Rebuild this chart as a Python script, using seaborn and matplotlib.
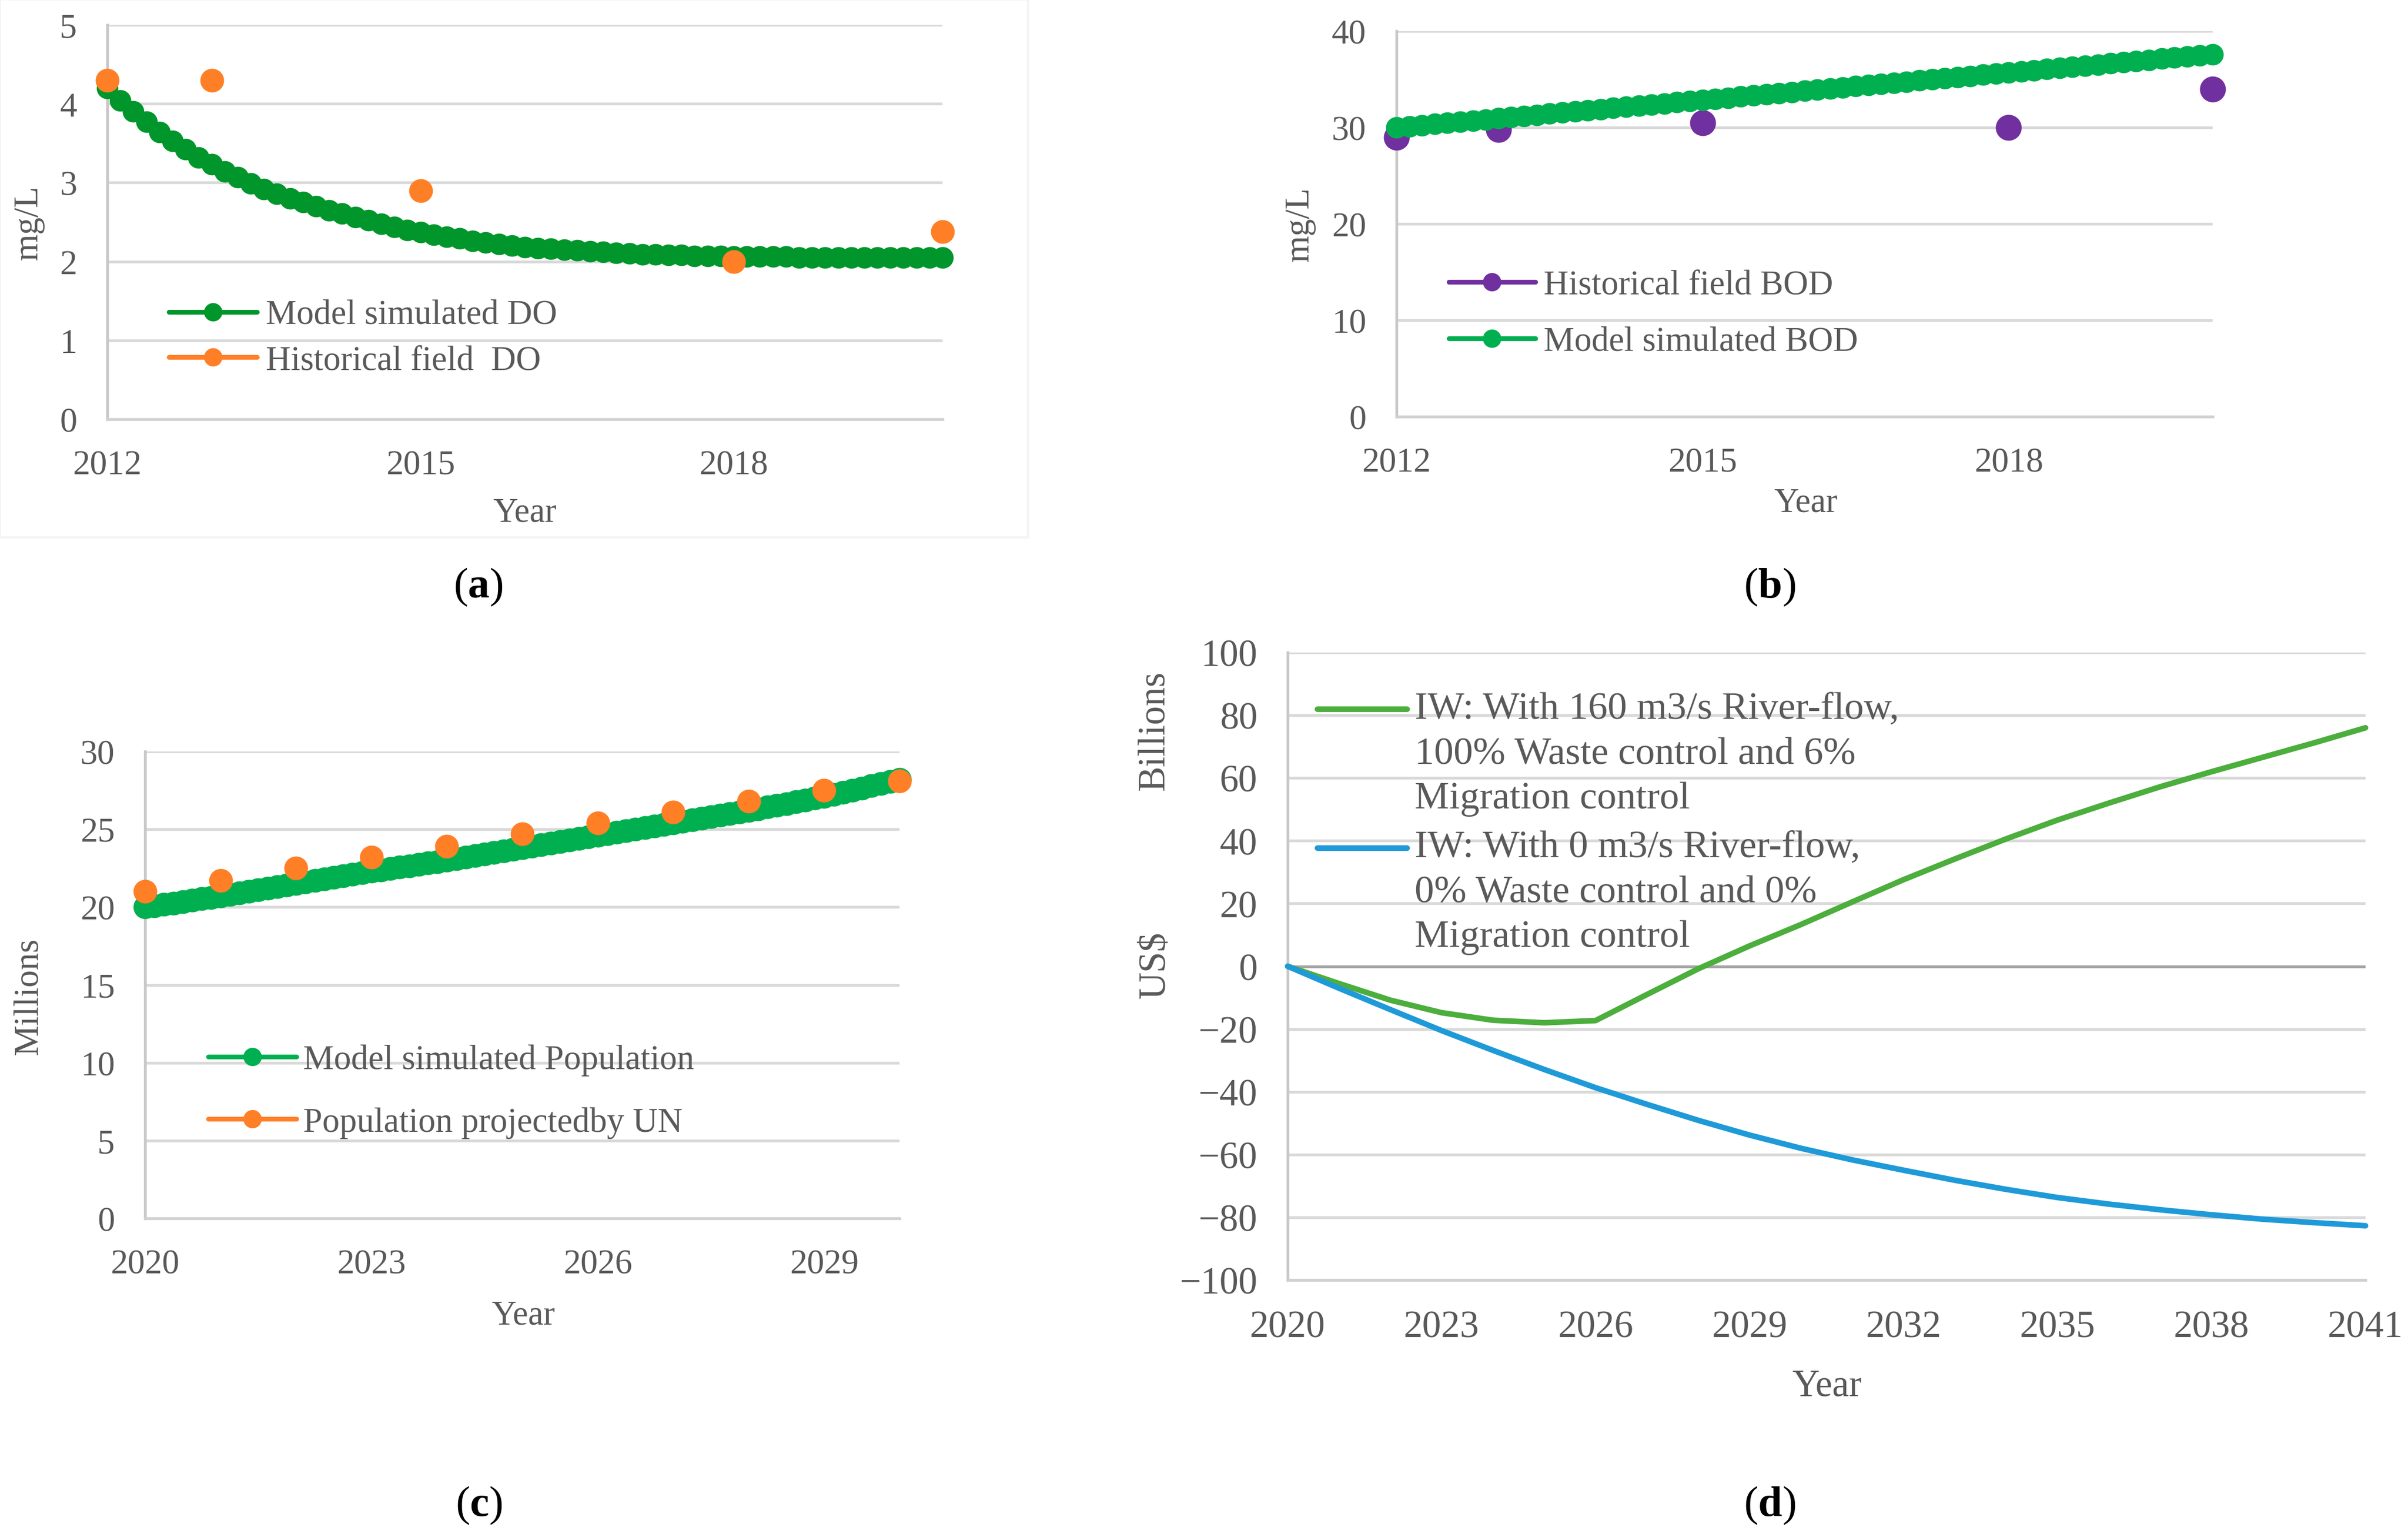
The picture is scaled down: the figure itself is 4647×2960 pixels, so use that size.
import numpy as np
import matplotlib
matplotlib.use("Agg")
import matplotlib.pyplot as plt
import seaborn as sns
from matplotlib.lines import Line2D
from matplotlib.patches import Rectangle

W, H = 4647, 2961

# ---- (a) dissolved oxygen, mg/L ----
do_time = np.linspace(2012, 2020, 65)
do_model = [4.20, 4.04, 3.90, 3.77, 3.64, 3.53, 3.42, 3.32,
            3.23, 3.14, 3.07, 2.99, 2.92, 2.86, 2.80, 2.75,
            2.70, 2.65, 2.61, 2.56, 2.52, 2.48, 2.44, 2.40,
            2.37, 2.34, 2.31, 2.29, 2.26, 2.24, 2.22, 2.20,
            2.18, 2.17, 2.16, 2.15, 2.14, 2.13, 2.12, 2.11,
            2.10, 2.09, 2.09, 2.08, 2.08, 2.07, 2.07, 2.07,
            2.06, 2.06, 2.06, 2.06, 2.06, 2.05, 2.05, 2.05,
            2.05, 2.05, 2.05, 2.05, 2.05, 2.05, 2.05, 2.05, 2.05]
do_hist_year = [2012, 2013, 2015, 2018, 2020]
do_hist = [4.3, 4.3, 2.9, 2.0, 2.38]

# ---- (b) BOD, mg/L ----
bod_time = np.linspace(2012, 2020, 65)
bod_model = [30.00, 30.12, 30.24, 30.36, 30.48, 30.59, 30.71, 30.83,
             30.95, 31.07, 31.19, 31.31, 31.43, 31.54, 31.66, 31.78,
             31.90, 32.02, 32.14, 32.26, 32.38, 32.49, 32.61, 32.73,
             32.85, 32.97, 33.09, 33.21, 33.33, 33.44, 33.56, 33.68,
             33.80, 33.92, 34.04, 34.16, 34.28, 34.39, 34.51, 34.63,
             34.75, 34.87, 34.99, 35.11, 35.23, 35.34, 35.46, 35.58,
             35.70, 35.82, 35.94, 36.06, 36.18, 36.29, 36.41, 36.53,
             36.65, 36.77, 36.89, 37.01, 37.13, 37.24, 37.36, 37.48, 37.60]
bod_hist_year = [2012, 2013, 2015, 2018, 2020]
bod_hist = [29.0, 29.8, 30.5, 30.0, 34.0]

# ---- (c) population, millions ----
pop_time = np.linspace(2020, 2030, 81)
pop_model = [20.00, 20.09, 20.18, 20.26, 20.35, 20.44, 20.53, 20.61,
             20.70, 20.80, 20.90, 21.00, 21.10, 21.20, 21.30, 21.40,
             21.50, 21.60, 21.70, 21.80, 21.90, 22.00, 22.10, 22.20,
             22.30, 22.39, 22.48, 22.56, 22.65, 22.74, 22.83, 22.91,
             23.00, 23.10, 23.20, 23.30, 23.40, 23.50, 23.60, 23.70,
             23.80, 23.90, 24.00, 24.10, 24.20, 24.30, 24.40, 24.50,
             24.60, 24.70, 24.80, 24.90, 25.00, 25.10, 25.20, 25.30,
             25.40, 25.50, 25.60, 25.70, 25.80, 25.90, 26.00, 26.10,
             26.20, 26.31, 26.43, 26.54, 26.65, 26.76, 26.88, 26.99,
             27.10, 27.24, 27.38, 27.51, 27.65, 27.79, 27.93, 28.06, 28.20]
un_year = [2020, 2021, 2022, 2023, 2024, 2025, 2026, 2027, 2028, 2029, 2030]
un_pop = [21.0, 21.7, 22.5, 23.2, 23.9, 24.7, 25.4, 26.1, 26.8, 27.5, 28.1]

# ---- (d) IW, billions US$ ----
iw_year = list(range(2020, 2042))
iw_160 = [0, -5.5, -10.8, -14.8, -17.2, -18.0, -17.3, -9.0, -0.8, 6.5, 13.3,
          20.5, 27.6, 34.2, 40.6, 46.6, 52.0, 57.2, 62.0, 66.6, 71.2, 76.0]
iw_0 = [0, -7.0, -13.8, -20.5, -26.8, -32.9, -38.7, -44.0, -49.1, -53.8, -58.0,
        -61.7, -65.0, -68.2, -71.1, -73.7, -75.8, -77.6, -79.2, -80.6, -81.7, -82.7]

GREEN_DARK = "#00962b"
GREEN = "#00b050"
ORANGE = "#ff7f27"
PURPLE = "#7030a0"
GREEN_D = "#4cae3c"
BLUE = "#1f9ad8"
TXT = "#595959"

sns.set_theme(style="white")
plt.rcParams["font.family"] = ["Liberation Serif", "DejaVu Serif"]
plt.rcParams["mathtext.fontset"] = "custom"
plt.rcParams["mathtext.rm"] = "Liberation Serif"
plt.rcParams["mathtext.bf"] = "Liberation Serif:bold"

fig = plt.figure(figsize=(W / 300, H / 300), dpi=300)
fig.patch.set_facecolor("white")


def add_ax(l, t, r, b):
    return fig.add_axes([l / W, 1 - b / H, (r - l) / W, (b - t) / H])


def style(ax, xlim, xticks, yticks, fs):
    ax.set_xlim(*xlim)
    ax.set_ylim(yticks[0], yticks[-1])
    ax.set_xticks(xticks)
    ax.set_yticks(yticks)
    ax.grid(axis="y", color="#d9d9d9", lw=1.3)
    ax.grid(axis="x", visible=False)
    ax.set_axisbelow(True)
    for s in ["top", "right"]:
        ax.spines[s].set_visible(False)
    ax.spines["left"].set_color("#c8c8c8")
    ax.spines["left"].set_linewidth(1.3)
    ax.spines["bottom"].set_color("#d0d0d0")
    ax.spines["bottom"].set_linewidth(1.3)
    ax.tick_params(length=0, labelsize=fs, colors=TXT, pad=14)


def label_at(ax, which, text, x, y, fs):
    if which == "x":
        ax.set_xlabel(text, fontsize=fs, color=TXT)
        ax.xaxis.label.set_va("center")
        ax.xaxis.set_label_coords(x / W, 1 - y / H, transform=fig.transFigure)
    else:
        ax.set_ylabel(text, fontsize=fs, color=TXT)
        ax.yaxis.label.set_va("center")
        ax.yaxis.set_label_coords(x / W, 1 - y / H, transform=fig.transFigure)


def key(color, ms, lw=2.2):
    return Line2D([], [], color=color, lw=lw, marker="o", ms=ms, mec=color, mew=0)


# faint frame around panel (a)
fig.patches.append(Rectangle((0, 1 - 1038 / H), 1984 / W, 1038 / H, transform=fig.transFigure,
                             fill=False, ec="#f4f4f4", lw=1.0))

# (a)
ax = add_ax(207, 49, 1819, 810)
sns.lineplot(x=do_time, y=do_model, ax=ax, color=GREEN_DARK, lw=2, marker="o", ms=10,
             mec=GREEN_DARK, mew=0, clip_on=False, zorder=3)
sns.scatterplot(x=do_hist_year, y=do_hist, ax=ax, color=ORANGE, s=11 ** 2, linewidth=0,
                clip_on=False, zorder=4)
style(ax, (2012, 2020), [2012, 2015, 2018], [0, 1, 2, 3, 4, 5], 16)
label_at(ax, "y", "mg/L", 55, 430, 16)
label_at(ax, "x", "Year", 1013, 990, 16)
ax.legend(handles=[key(GREEN_DARK, 8.5), key(ORANGE, 8.5)],
          labels=["Model simulated DO", "Historical field  DO"],
          loc="upper left", bbox_to_anchor=(326 / W, 1 - 579 / H), bbox_transform=fig.transFigure,
          frameon=False, fontsize=16, labelcolor=TXT, borderpad=0, borderaxespad=0,
          handlelength=2.55, handletextpad=0.25, labelspacing=0.4)

# (b)
ax = add_ax(2695, 61, 4270, 805)
sns.scatterplot(x=bod_hist_year, y=bod_hist, ax=ax, color=PURPLE, s=12 ** 2, linewidth=0,
                clip_on=False, zorder=3)
sns.lineplot(x=bod_time, y=bod_model, ax=ax, color=GREEN, lw=2, marker="o", ms=10,
             mec=GREEN, mew=0, clip_on=False, zorder=4)
style(ax, (2012, 2020), [2012, 2015, 2018], [0, 10, 20, 30, 40], 16)
label_at(ax, "y", "mg/L", 2508, 433, 16)
label_at(ax, "x", "Year", 3485, 971, 16)
ax.legend(handles=[key(PURPLE, 8.5), key(GREEN, 8.5)],
          labels=["Historical field BOD", "Model simulated BOD"],
          loc="upper left", bbox_to_anchor=(2796 / W, 1 - 521 / H), bbox_transform=fig.transFigure,
          frameon=False, fontsize=16, labelcolor=TXT, borderpad=0, borderaxespad=0,
          handlelength=2.5, handletextpad=0.25, labelspacing=0.73)

# (c)
ax = add_ax(280, 1451, 1736, 2352)
sns.lineplot(x=pop_time, y=pop_model, ax=ax, color=GREEN, lw=2, marker="o", ms=11,
             mec=GREEN, mew=0, clip_on=False, zorder=3)
sns.scatterplot(x=un_year, y=un_pop, ax=ax, color=ORANGE, s=11 ** 2, linewidth=0,
                clip_on=False, zorder=4)
style(ax, (2020, 2030), [2020, 2023, 2026, 2029], [0, 5, 10, 15, 20, 25, 30], 16)
label_at(ax, "y", "Millions", 55, 1923, 16)
label_at(ax, "x", "Year", 1010, 2539, 16)
ax.legend(handles=[key(GREEN, 8.5), key(ORANGE, 8.5)],
          labels=["Model simulated Population", "Population projectedby UN"],
          loc="upper left", bbox_to_anchor=(402 / W, 1 - 2016 / H), bbox_transform=fig.transFigure,
          frameon=False, fontsize=16, labelcolor=TXT, borderpad=0, borderaxespad=0,
          handlelength=2.55, handletextpad=0.2, labelspacing=0.88)

# (d)
ax = add_ax(2485, 1260, 4565, 2471)
sns.lineplot(x=iw_year, y=iw_160, ax=ax, color=GREEN_D, lw=2.6, clip_on=False, zorder=3)
sns.lineplot(x=iw_year, y=iw_0, ax=ax, color=BLUE, lw=2.6, clip_on=False, zorder=3)
style(ax, (2020, 2041), list(range(2020, 2042, 3)), list(range(-100, 101, 20)), 17.5)
ax.axhline(0, color="#a6a6a6", lw=1.3, zorder=1)
label_at(ax, "x", "Year", 3525, 2676, 17.5)
fig.text(2229 / W, 1 - 1410 / H, "Billions", rotation=90, ha="center", va="center",
         fontsize=17.5, color=TXT)
fig.text(2229 / W, 1 - 1862 / H, "US$", rotation=90, ha="center", va="center",
         fontsize=17.5, color=TXT)
leg = ax.legend(handles=[Line2D([], [], color=GREEN_D, lw=2.6), Line2D([], [], color=BLUE, lw=2.6)],
                labels=["IW: With 160 m3/s River-flow,\n100% Waste control and 6%\nMigration control",
                        "IW: With 0 m3/s River-flow,\n0% Waste control and 0%\nMigration control"],
                loc="upper left", bbox_to_anchor=(2542 / W, 1 - 1335 / H),
                bbox_transform=fig.transFigure, frameon=False, fontsize=18, labelcolor=TXT,
                borderpad=0, borderaxespad=0, handlelength=2.3, handletextpad=0.2,
                labelspacing=0.36)
for t in leg.get_texts():
    t.set_linespacing(1.37)
# put each key beside the first line of its label, as in the source chart
for ln in leg.get_lines():
    ln.set_ydata(np.asarray(ln.get_ydata()) + 20.6)

# panel letters
for x, y, letter in [(923, 1133, "a"), (3415, 1133, "b"), (924, 2905, "c"), (3415, 2905, "d")]:
    fig.text(x / W, 1 - y / H, r"($\mathbf{" + letter + r"}$)", ha="center", va="center",
             fontsize=20, color="black")

fig.savefig("out.png", dpi=300, facecolor="white")
